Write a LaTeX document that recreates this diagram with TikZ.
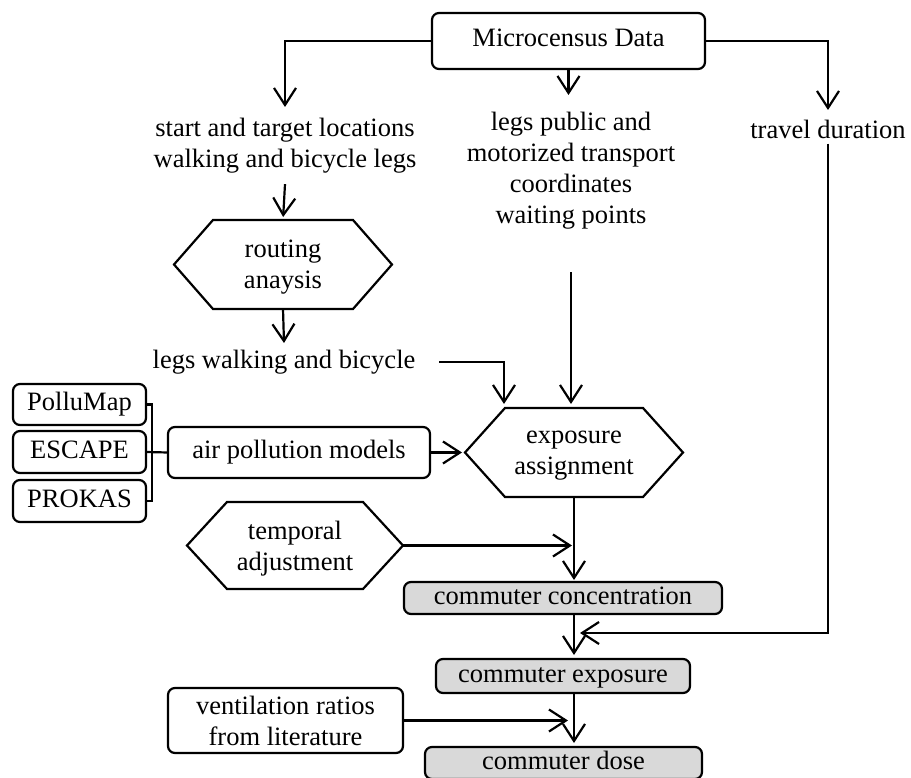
\documentclass[tikz,border=0pt]{standalone}
\usepackage{fontspec}
\setmainfont{Liberation Serif}
\usetikzlibrary{arrows.meta}
\newcommand\hexdraw[2]{\draw[line] ([xshift=#2]#1.north west) -- ([xshift=-#2]#1.north east) -- (#1.east) -- ([xshift=-#2]#1.south east) -- ([xshift=#2]#1.south west) -- (#1.west) -- cycle;}
\begin{document}
\begin{tikzpicture}[x=1pt,y=-1pt,
  line/.style={line width=2.2pt},
  conn/.style={line, ->},
  >={Straight Barb[length=17pt,width=22pt]},
  every node/.style={font=\fontsize{26.5}{31}\selectfont, inner sep=0pt, outer sep=0pt},
  rbox/.style={draw, line, rounded corners=7pt, align=center},
  one/.style={text height=18pt, text depth=6pt},
  gbox/.style={rbox, one, fill=gray!30},
  hexnode/.style={align=center, minimum width=218pt, minimum height=89pt, text depth=-3pt},
  txt/.style={align=center}]
\useasboundingbox (0,0) rectangle (911,778);

\node[rbox, one, minimum width=273pt, minimum height=56pt] (mc) at (568.5,41) {Microcensus Data};
\node[txt, anchor=north, inner ysep=11pt] (stl) at (285,107) {start and target locations\\walking and bicycle legs};
\node[txt, anchor=north, inner ysep=17pt] (lp) at (571,95) {legs public and\\motorized transport\\coordinates\\waiting points};
\node[txt, anchor=north, inner ysep=10pt] (td) at (828,110) {travel duration};
\node[hexnode] (ra) at (283,264.5) {routing\\anaysis};
\node[txt, anchor=north, inner ysep=7pt] (lwb) at (284,343) {legs walking and bicycle};
\node[hexnode] (ea) at (574,452.5) {exposure\\assignment};
\node[rbox, one, minimum width=133pt, minimum height=41pt] (pm) at (79.5,404.5) {PolluMap};
\node[rbox, one, minimum width=133pt, minimum height=42pt] (es) at (79.5,452) {ESCAPE};
\node[rbox, one, minimum width=133pt, minimum height=42pt] (pk) at (79.5,501) {PROKAS};
\node[rbox, one, minimum width=262pt, minimum height=51pt] (apm) at (299,452.5) {air pollution models};
\node[hexnode, minimum width=216pt, minimum height=87pt] (ta) at (295,545.5) {temporal\\adjustment};
\node[gbox, minimum width=318pt, minimum height=32pt] (cc) at (563,598) {commuter concentration};
\node[gbox, minimum width=254pt, minimum height=34pt] (ce) at (563,676) {commuter exposure};
\node[gbox, minimum width=277pt, minimum height=32pt] (cd) at (563.5,763) {commuter dose};
\node[rbox, minimum width=235pt, minimum height=65pt] (vr) at (285.5,720.5) {ventilation ratios\\from literature};

\hexdraw{ra}{39pt}
\hexdraw{ea}{40pt}
\hexdraw{ta}{40pt}

\draw[conn] (mc.west) -| (stl.north);
\draw[conn] (mc.south) -- (mc.south |- lp.north);
\draw[conn] (mc.east) -| (td.north);
\draw[conn, shorten >=3pt] (stl.south) -- (ra.north);
\draw[conn] (ra.south) -- (lwb.north);
\draw[conn, shorten <=24pt, shorten >=4pt] (lwb.east) -| ([xshift=-70pt]ea.north);
\draw[conn, shorten <=26pt, shorten >=4pt] (lp.south) -- (lp.south |- ea.north);
\draw[conn, shorten >=3pt] (apm.east) -- (ea.west);
\draw[line] (pm.east) -- ++(6,0) |- (pk.east);
\draw[line] (es.east) -- (apm.west);
\draw[conn, shorten >=2pt] (ea.south) -- (ea.south |- cc.north);
\draw[conn, shorten >=2pt] (ta.east) -- (ta.east -| ea.south);
\draw[conn, shorten >=4pt] (cc.south -| ea.south) -- (ce.north -| ea.south);
\coordinate (j1) at (580,633);
\draw[conn, shorten <=-5pt] (td.south) |- (j1);
\draw[conn, shorten >=4pt] (ce.south -| ea.south) -- (cd.north -| ea.south);
\draw[conn, shorten >=6pt] (vr.east) -- (vr.east -| ea.south);
\end{tikzpicture}
\end{document}
